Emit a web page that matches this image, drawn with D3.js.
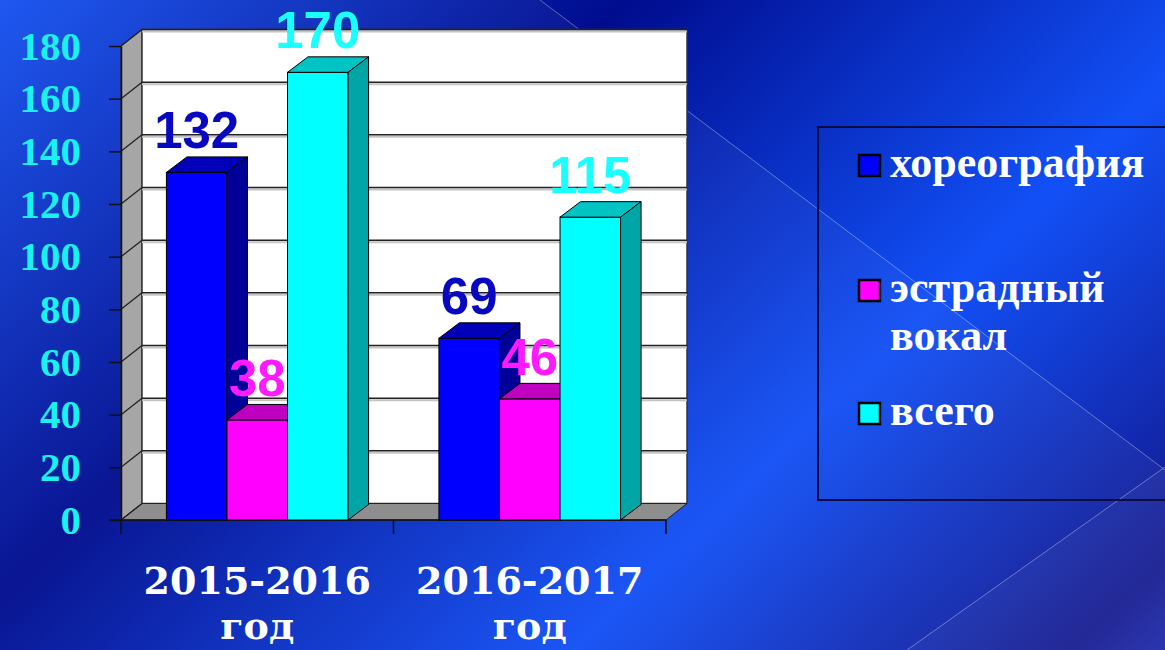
<!DOCTYPE html>
<html>
<head>
<meta charset="utf-8">
<script src="https://cdn.jsdelivr.net/npm/d3@7"></script>
<style>
  html, body { margin: 0; padding: 0; background: #0a2ac0; overflow: hidden; }
  svg { display: block; }
</style>
</head>
<body>
<div id="chart"></div>
<script>
/* DATA */
const categories = ["2015-2016 год", "2016-2017 год"];
const seriesNames = ["хореография", "эстрадный вокал", "всего"];
const choreography = [132, 69];
const popVocal = [38, 46];
const total = [170, 115];
const yTicks = [0, 20, 40, 60, 80, 100, 120, 140, 160, 180];

/* LAYOUT */
const width = 1165,
  height = 650,
  plot = { left: 121, right: 666, top: 46, bottom: 520 },
  wall = { dx: 21, dy: 16.5 }, // depth of the 3d box
  depth = { dx: 20.5, dy: 15.5 }; // depth of each bar

const frontColors = ["#0000ff", "#ff00ff", "#00ffff"];
const topColors = ["#0000b8", "#c000c0", "#00c4c4"];
const sideColors = ["#000098", "#a000a0", "#00a6a6"];
const labelColors = ["#0808c0", "#ff1aff", "#1affff"];

const seriesValues = [choreography, popVocal, total];

const svg = d3.select("#chart")
  .append("svg")
  .attr("width", width)
  .attr("height", height);

// background
const defs = svg.append("defs");
const bg = defs.append("linearGradient")
  .attr("id", "bg")
  .attr("gradientUnits", "userSpaceOnUse")
  .attr("x1", 0).attr("y1", 0)
  .attr("x2", 878).attr("y2", 922);
[[0, "#1652f0"], [0.34, "#000c8e"], [0.68, "#1250f6"], [0.95, "#12188e"], [1, "#1a26aa"]]
  .forEach(([o, c]) => bg.append("stop").attr("offset", o).attr("stop-color", c));

svg.append("rect").attr("width", width).attr("height", height).attr("fill", "url(#bg)");
svg.append("polygon")
  .attr("points", "0,0 540,0 1165,470 1165,650 0,650")
  .attr("fill", "#ffffff").attr("opacity", 0.04);
svg.append("polygon")
  .attr("points", "1165,467 1165,650 907,650")
  .attr("fill", "#ffffff").attr("opacity", 0.04);
svg.append("line").attr("x1", 540).attr("y1", 0).attr("x2", 1165).attr("y2", 470)
  .attr("stroke", "#ffffff").attr("stroke-opacity", 0.35);
svg.append("line").attr("x1", 1165).attr("y1", 467).attr("x2", 907).attr("y2", 650)
  .attr("stroke", "#ffffff").attr("stroke-opacity", 0.35);

/* SCALES */
const x0 = d3.scaleBand()
  .domain(categories)
  .range([plot.left, plot.right]);

const x1 = d3.scaleBand()
  .domain(seriesNames)
  .range([0, x0.bandwidth()])
  .paddingInner(0)
  .paddingOuter(0.75);

const y = d3.scaleLinear()
  .domain([0, 180])
  .range([plot.bottom, plot.top]);

/* 3D BOX */
const y0 = y(0), yMax = y(180);
const box = svg.append("g");

box.append("polygon")
  .attr("points", [[plot.left, yMax], [plot.left + wall.dx, yMax - wall.dy],
    [plot.left + wall.dx, y0 - wall.dy], [plot.left, y0]].join(" "))
  .attr("fill", "#a6a6a6").attr("stroke", "#222").attr("stroke-width", 1);

box.append("rect")
  .attr("x", plot.left + wall.dx)
  .attr("y", yMax - wall.dy)
  .attr("width", plot.right - plot.left)
  .attr("height", y0 - yMax)
  .attr("fill", "#ffffff").attr("stroke", "#333").attr("stroke-width", 1.5);

box.append("polygon")
  .attr("points", [[plot.left, y0], [plot.left + wall.dx, y0 - wall.dy],
    [plot.right + wall.dx, y0 - wall.dy], [plot.right, y0]].join(" "))
  .attr("fill", "#8e8e8e").attr("stroke", "#222").attr("stroke-width", 1);

// gridlines on back and left wall
const grid = yTicks.filter(t => t > 0);
box.selectAll(".grid-shade")
  .data(grid)
  .join("line")
  .attr("x1", plot.left + wall.dx).attr("x2", plot.right + wall.dx)
  .attr("y1", d => y(d) - wall.dy + 2).attr("y2", d => y(d) - wall.dy + 2)
  .attr("stroke", "#c4c4c4").attr("stroke-width", 2);
box.selectAll(".grid")
  .data(grid)
  .join("line")
  .attr("x1", plot.left + wall.dx).attr("x2", plot.right + wall.dx)
  .attr("y1", d => y(d) - wall.dy).attr("y2", d => y(d) - wall.dy)
  .attr("stroke", "#222").attr("stroke-width", 1.5);
box.selectAll(".grid-side")
  .data(yTicks)
  .join("line")
  .attr("x1", plot.left).attr("x2", plot.left + wall.dx)
  .attr("y1", d => y(d)).attr("y2", d => y(d) - wall.dy)
  .attr("stroke", "#222").attr("stroke-width", 1.3);

/* AXES */
const yAxis = d3.axisLeft(y)
  .tickValues(yTicks)
  .tickSize(12)
  .tickSizeOuter(0)
  .tickPadding(28);

const yAxisG = svg.append("g")
  .attr("transform", `translate(${plot.left},0)`)
  .call(yAxis);
yAxisG.select(".domain").attr("stroke", "#111").attr("stroke-width", 1.5);
yAxisG.selectAll(".tick line").attr("stroke", "#111").attr("stroke-width", 1.5);
yAxisG.selectAll(".tick text")
  .attr("fill", "#1af2f2")
  .attr("font-family", "'Liberation Serif', 'Times New Roman', serif")
  .attr("font-weight", "bold")
  .attr("font-size", 41);

// bottom axis with ticks on the category borders
const xAxisG = svg.append("g");
xAxisG.append("line")
  .attr("x1", plot.left - 12).attr("x2", plot.right)
  .attr("y1", y0).attr("y2", y0)
  .attr("stroke", "#111").attr("stroke-width", 1.5);
xAxisG.selectAll(".xtick")
  .data([...categories.map(c => x0(c)), plot.right])
  .join("line")
  .attr("x1", d => d).attr("x2", d => d)
  .attr("y1", y0).attr("y2", y0 + 14)
  .attr("stroke", "#111").attr("stroke-width", 1.5);

xAxisG.selectAll(".xlabel")
  .data(categories)
  .join("text")
  .attr("x", d => x0(d) + x0.bandwidth() / 2)
  .attr("y", 594)
  .attr("text-anchor", "middle")
  .attr("fill", "#ffffff")
  .attr("font-family", "'DejaVu Serif', serif")
  .attr("font-weight", "bold")
  .attr("font-size", 38)
  .selectAll("tspan")
  .data(d => d.split(" "))
  .join("tspan")
  .attr("x", function() { return this.parentNode.getAttribute("x"); })
  .attr("dy", (d, i) => i === 0 ? 0 : 45)
  .text(d => d);

/* BARS */
const bars = [];
categories.forEach((c, i) => {
  seriesNames.forEach((s, j) => {
    bars.push({ cat: c, series: s, idx: j, value: seriesValues[j][i] });
  });
});

const barG = svg.append("g")
  .selectAll(".bar")
  .data(bars)
  .join("g")
  .attr("class", "bar");

barG.append("rect")
  .attr("x", d => x0(d.cat) + x1(d.series))
  .attr("y", d => y(d.value))
  .attr("width", x1.bandwidth())
  .attr("height", d => y0 - y(d.value))
  .attr("fill", d => frontColors[d.idx])
  .attr("stroke", "#000").attr("stroke-width", 1);

barG.append("polygon")
  .attr("points", d => {
    const xl = x0(d.cat) + x1(d.series), xr = xl + x1.bandwidth(), yt = y(d.value);
    return [[xl, yt], [xl + depth.dx, yt - depth.dy], [xr + depth.dx, yt - depth.dy], [xr, yt]].join(" ");
  })
  .attr("fill", d => topColors[d.idx])
  .attr("stroke", "#000").attr("stroke-width", 1);

barG.append("polygon")
  .attr("points", d => {
    const xr = x0(d.cat) + x1(d.series) + x1.bandwidth(), yt = y(d.value);
    return [[xr, yt], [xr + depth.dx, yt - depth.dy], [xr + depth.dx, y0 - depth.dy], [xr, y0]].join(" ");
  })
  .attr("fill", d => sideColors[d.idx])
  .attr("stroke", "#000").attr("stroke-width", 1);

// value labels
svg.append("g")
  .selectAll("text")
  .data(bars)
  .join("text")
  .attr("x", d => x0(d.cat) + x1(d.series) + x1.bandwidth() / 2)
  .attr("y", d => y(d.value) - 24)
  .attr("text-anchor", "middle")
  .attr("fill", d => labelColors[d.idx])
  .attr("font-family", "'Liberation Sans', Arial, sans-serif")
  .attr("font-weight", "bold")
  .attr("font-size", 51)
  .text(d => d.value);

/* LEGEND */
const legend = svg.append("g");
legend.append("rect")
  .attr("x", 818).attr("y", 127)
  .attr("width", 360).attr("height", 373)
  .attr("fill", "none")
  .attr("stroke", "#0c0c40").attr("stroke-width", 2);

const legendY = [177, 302, 425];
const legendItems = legend.selectAll(".item")
  .data(seriesNames)
  .join("g")
  .attr("transform", (d, i) => `translate(859,${legendY[i]})`);

legendItems.append("rect")
  .attr("x", 0).attr("y", -22)
  .attr("width", 21).attr("height", 21)
  .attr("fill", (d, i) => frontColors[i])
  .attr("stroke", "#000").attr("stroke-width", 2.5);

legendItems.append("text")
  .attr("x", 31)
  .attr("fill", "#ffffff")
  .attr("font-family", "'Liberation Serif', 'Times New Roman', serif")
  .attr("font-weight", "bold")
  .attr("font-size", 44)
  .selectAll("tspan")
  .data(d => d.split(" "))
  .join("tspan")
  .attr("x", 31)
  .attr("dy", (d, i) => i === 0 ? 0 : 48)
  .text(d => d);
</script>
</body>
</html>
